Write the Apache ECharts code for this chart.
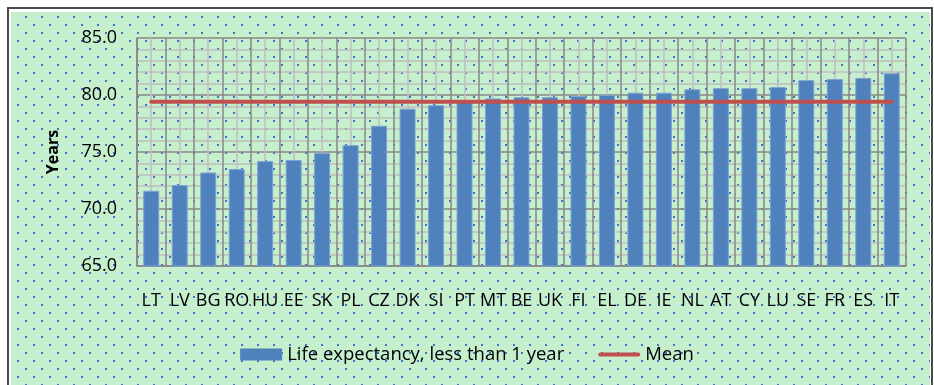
<!DOCTYPE html>
<html>
<head>
<meta charset="utf-8">
<script src="https://cdn.jsdelivr.net/npm/echarts@6/dist/echarts.min.js"></script>
<style>
  html, body { margin: 0; padding: 0; background: #ffffff; }
  #chart { width: 934px; height: 385px; }
</style>
</head>
<body>
<div id="chart"></div>
<script>
// Country codes along the category axis
const countries = ['LT', 'LV', 'BG', 'RO', 'HU', 'EE', 'SK', 'PL', 'CZ', 'DK', 'SI', 'PT', 'MT', 'BE',
  'UK', 'FI', 'EL', 'DE', 'IE', 'NL', 'AT', 'CY', 'LU', 'SE', 'FR', 'ES', 'IT'];

// Life expectancy at birth (less than 1 year), in years
const lifeExpectancy = [71.6, 72.1, 73.2, 73.5, 74.2, 74.3, 74.9, 75.6, 77.3, 78.8, 79.1, 79.4, 79.7, 79.8,
  79.8, 79.9, 80.0, 80.2, 80.2, 80.5, 80.6, 80.6, 80.7, 81.3, 81.4, 81.5, 81.9];

// Mean level, repeated for each country so the line runs across all categories
const meanLine = [79.4, 79.4, 79.4, 79.4, 79.4, 79.4, 79.4, 79.4, 79.4, 79.4, 79.4, 79.4, 79.4, 79.4,
  79.4, 79.4, 79.4, 79.4, 79.4, 79.4, 79.4, 79.4, 79.4, 79.4, 79.4, 79.4, 79.4];

// Value-axis range and step
const yMin = 65;
const yMax = 85;
const yStep = 5;

const seriesNames = ['Life expectancy, less than 1 year', 'Mean'];

// Dotted green fill tile
function makeDotTile() {
  const c = document.createElement('canvas');
  c.width = 16;
  c.height = 16;
  const ctx = c.getContext('2d');
  ctx.fillStyle = '#C6EFCE';
  ctx.fillRect(0, 0, 16, 16);
  ctx.fillStyle = '#4472C4';
  ctx.fillRect(9, 0, 2, 2);
  ctx.fillRect(1, 8, 2, 2);
  return c;
}

const FONT = '"Open Sans", "Noto Sans", sans-serif';
const DARK_GRID = '#878787';
const LIGHT_GRID = '#BFBFBF';

const chart = echarts.init(document.getElementById('chart'), null, { renderer: 'canvas' });

chart.setOption({
  animation: false,
  backgroundColor: '#ffffff',
  textStyle: { fontFamily: FONT },
  graphic: [
    {
      type: 'rect',
      z: -10,
      silent: true,
      shape: { x: 11, y: 12, width: 919, height: 390 },
      style: { fill: { image: makeDotTile(), repeat: 'repeat' } }
    },
    {
      type: 'rect',
      z: -9,
      silent: true,
      shape: { x: 8, y: 8, width: 924, height: 400 },
      style: { fill: 'none', stroke: '#4a4a4a', lineWidth: 2 }
    }
  ],
  grid: { left: 137, right: 28, top: 38, bottom: 119, containLabel: false },
  legend: {
    data: [
      { name: seriesNames[0], icon: 'rect', itemStyle: { borderWidth: 0 } },
      { name: seriesNames[1], icon: 'path://M2,0 L42,0 A2,2 0 0 1 42,4 L2,4 A2,2 0 0 1 2,0 Z' }
    ],
    bottom: 16,
    left: 'center',
    itemWidth: 42,
    itemHeight: 12,
    itemGap: 34,
    symbolKeepAspect: true,
    textStyle: { fontSize: 18.5, color: '#000', fontFamily: FONT }
  },
  xAxis: [
    {
      type: 'category',
      data: countries,
      boundaryGap: true,
      axisLine: { show: true, lineStyle: { color: DARK_GRID, width: 1.5 } },
      axisTick: { show: false },
      axisLabel: { interval: 0, margin: 26, fontSize: 18, color: '#000', fontFamily: FONT },
      splitLine: { show: true, interval: 0, lineStyle: { color: DARK_GRID, width: 1.5 } }
    },
    {
      // hidden helper axis: its minor split lines mark each category centre
      type: 'value',
      min: 0,
      max: countries.length,
      interval: 1,
      position: 'bottom',
      axisLine: { show: false },
      axisTick: { show: false },
      axisLabel: { show: false },
      splitLine: { show: false },
      minorTick: { show: false, splitNumber: 2 },
      minorSplitLine: { show: true, lineStyle: { color: LIGHT_GRID, width: 1.5 } }
    }
  ],
  yAxis: {
    type: 'value',
    min: yMin,
    max: yMax,
    interval: yStep,
    name: 'Years',
    nameLocation: 'middle',
    nameGap: 76,
    nameTextStyle: { fontSize: 16, fontWeight: 'bold', color: '#000', fontFamily: FONT },
    axisLine: { show: true, lineStyle: { color: DARK_GRID, width: 1.5 } },
    axisTick: { show: false },
    axisLabel: {
      margin: 20,
      fontSize: 18,
      color: '#000',
      fontFamily: FONT,
      formatter: v => v.toFixed(1)
    },
    splitLine: { show: true, lineStyle: { color: DARK_GRID, width: 1.5 } },
    minorTick: { show: false, splitNumber: 5 },
    minorSplitLine: { show: true, lineStyle: { color: LIGHT_GRID, width: 1.5 } }
  },
  series: [
    {
      name: seriesNames[0],
      type: 'bar',
      xAxisIndex: 0,
      data: lifeExpectancy,
      barWidth: '56%',
      itemStyle: { color: '#4F81BD', borderColor: '#7DA2D2', borderWidth: 1 }
    },
    {
      name: seriesNames[1],
      type: 'line',
      xAxisIndex: 0,
      data: meanLine,
      symbol: 'none',
      lineStyle: { color: '#C0504D', width: 4, cap: 'round' },
      itemStyle: { color: '#C0504D' },
      z: 3
    }
  ]
});
</script>
</body>
</html>
